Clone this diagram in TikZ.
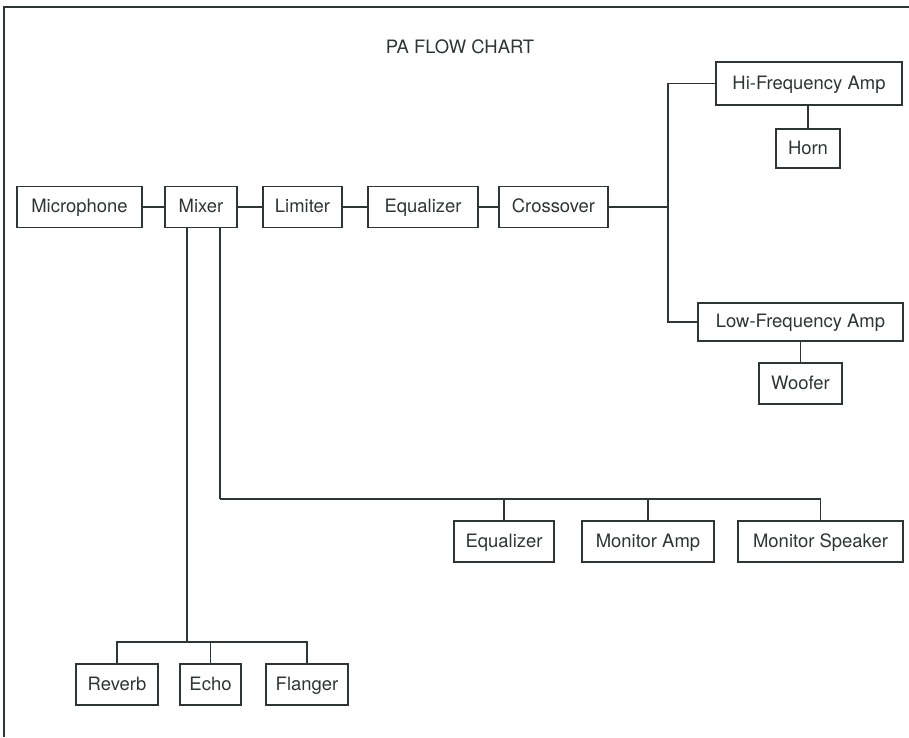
\documentclass[tikz,border=0pt]{standalone}
\usepackage{fontspec}
\setmainfont{TeX Gyre Heros}
\usepackage{tikz}
\usepackage{xcolor}
\usetikzlibrary{positioning, calc}
\definecolor{ink}{RGB}{45,55,50}

\begin{document}
\begin{tikzpicture}[x=0.02cm, y=-0.02cm, ink, line width=0.8pt,
  blk/.style={draw, rectangle, inner sep=0pt, minimum height=41*0.02cm,
    text height=1.55ex, text depth=0.3ex,
    font=\fontsize{10.5}{12}\selectfont, text=ink}]
\useasboundingbox (0,0) rectangle (909,737);

% Frame and title
\draw[line width=1.3pt] (4,737) -- (4,7) -- (909,7);
\node[font=\fontsize{10.5}{12}\selectfont] (title) at (460,47) {PA FLOW CHART};

% Main chain
\node[blk, minimum width=125*0.02cm] (mic) at (79.5,207) {Microphone};
\node[blk, minimum width=72*0.02cm] (mixer) at (201,207) {Mixer};
\node[blk, minimum width=79*0.02cm] (limiter) at (302.5,207) {Limiter};
\node[blk, minimum width=110*0.02cm] (eq) at (423,207) {Equalizer};
\node[blk, minimum width=109*0.02cm] (cross) at (553.5,207) {Crossover};

\draw (mic) -- (mixer);
\draw (mixer) -- (limiter);
\draw (limiter) -- (eq);
\draw (eq) -- (cross);

% Crossover outputs
\node[blk, minimum width=186*0.02cm, minimum height=43*0.02cm] (hiamp) at (809,83.5) {Hi-Frequency Amp};
\node[blk, minimum width=64*0.02cm, minimum height=39*0.02cm] (horn) at (808,148.5) {Horn};
\node[blk, minimum width=205*0.02cm, minimum height=38*0.02cm] (loamp) at (800.5,322) {Low-Frequency Amp};
\node[blk, minimum width=83*0.02cm] (woofer) at (800.5,383.5) {Woofer};

\coordinate (xjct) at (668,207);
\draw (cross) -- (xjct);
\draw (hiamp.west) -| (xjct);
\draw (loamp.west) -| (xjct);
\draw (horn.north) -- (horn.north |- hiamp.south);
\draw (woofer.north) -- (woofer.north |- loamp.south);

% Monitor line
\node[blk, minimum width=100*0.02cm] (meq) at (504,541.5) {Equalizer};
\node[blk, minimum width=132*0.02cm] (mamp) at (648,541.5) {Monitor Amp};
\node[blk, minimum width=165*0.02cm] (mspk) at (820.5,541.5) {Monitor Speaker};

\coordinate (mon) at (220,499);
\draw (mixer.south -| mon) -- (mon);
\draw (meq.north) |- (mon);
\draw (mamp.north) |- (mon);
\draw (mspk.north) |- (mon);

% Effects
\node[blk, minimum width=82*0.02cm] (reverb) at (117,684.5) {Reverb};
\node[blk, minimum width=61*0.02cm] (echo) at (210.5,684.5) {Echo};
\node[blk, minimum width=82*0.02cm] (flanger) at (307,684.5) {Flanger};

\coordinate (fx) at (187,642);
\draw (mixer.south -| fx) -- (fx);
\draw (reverb.north) |- (fx);
\draw (echo.north) |- (fx);
\draw (flanger.north) |- (fx);
\end{tikzpicture}
\end{document}
